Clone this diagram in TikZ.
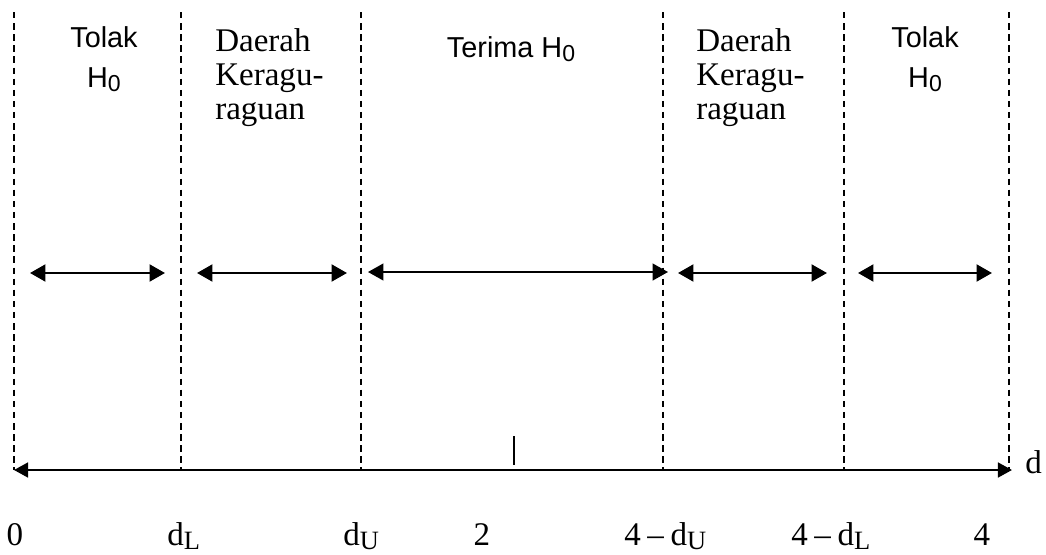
\documentclass[tikz,border=0pt]{standalone}
\usepackage{fontspec}
\usepackage{graphicx}
\setmainfont{Liberation Serif}
\setsansfont{Liberation Sans}
\usetikzlibrary{arrows.meta}
\newcommand{\lowsub}[1]{\raisebox{-0.3ex}{\scalebox{0.8}{#1}}}
\newcommand{\minusd}{\kern0.2em–\kern0.2em}

\begin{document}
\begin{tikzpicture}[
  x=0.025cm, y=-0.025cm,
  sanslbl/.style={font=\fontsize{20.5}{24}\selectfont\sffamily, inner sep=0pt, anchor=base},
  seriflbl/.style={font=\fontsize{23.5}{24}\selectfont, inner sep=0pt, anchor=base west},
  border/.style={dash pattern=on 4.6pt off 3.3pt, line width=1pt},
  spanarrow/.style={{Triangle[length=11pt,width=12pt]}-{Triangle[length=11pt,width=12pt]}, line width=1.8pt},
  axisline/.style={{Triangle[length=10pt,width=10.5pt]}-{Triangle[length=10pt,width=10.5pt]}, line width=1.7pt}
]
\useasboundingbox (0,0) rectangle (1046,554);

% --- region borders ---
\coordinate (b0top) at (14,12);    \coordinate (b0bot) at (14,470);
\coordinate (b1top) at (181,12);   \coordinate (b1bot) at (181,470);
\coordinate (b2top) at (361,12);   \coordinate (b2bot) at (361,470);
\coordinate (b3top) at (663,12);   \coordinate (b3bot) at (663,470);
\coordinate (b4top) at (844,12);   \coordinate (b4bot) at (844,470);
\coordinate (b5top) at (1009,12);  \coordinate (b5bot) at (1009,470);
\foreach \i in {0,...,5}
  \draw[border] (b\i top) -- (b\i bot);

% --- region labels ---
\node[sanslbl]  (tolakA)  at (104,47)  {Tolak};
\node[sanslbl]  (hA)      at (104,87)  {H\lowsub{0}};
\node[seriflbl] (daerahA) at (215,51)  {Daerah};
\node[seriflbl] (keraA)   at (215,85)  {Keragu-};
\node[seriflbl] (ragA)    at (215,119) {raguan};
\node[sanslbl]  (terima)  at (511,57)  {Terima H\lowsub{0}};
\node[seriflbl] (daerahB) at (696,51)  {Daerah};
\node[seriflbl] (keraB)   at (696,85)  {Keragu-};
\node[seriflbl] (ragB)    at (696,119) {raguan};
\node[sanslbl]  (tolakB)  at (925,47)  {Tolak};
\node[sanslbl]  (hB)      at (925,87)  {H\lowsub{0}};

% --- ranges ---
\coordinate (r1l) at (30,273);  \coordinate (r1r) at (165,273);
\coordinate (r2l) at (197,273); \coordinate (r2r) at (347,273);
\coordinate (r3l) at (368,272); \coordinate (r3r) at (668,272);
\coordinate (r4l) at (678,273); \coordinate (r4r) at (827,273);
\coordinate (r5l) at (858,273); \coordinate (r5r) at (992,273);
\draw[spanarrow] (r1l) -- (r1r);
\draw[spanarrow] (r2l) -- (r2r);
\draw[spanarrow, line width=1.3pt] (r3l) -- (r3r);
\draw[spanarrow] (r4l) -- (r4r);
\draw[spanarrow] (r5l) -- (r5r);

% --- axis ---
\coordinate (axl) at (14,470);
\coordinate (axr) at (1012,470);
\coordinate (ticktop) at (514,436);
\coordinate (tickbot) at (514,465);
\draw[axisline] (axl) -- (axr);
\draw[line width=1pt] (ticktop) -- (tickbot);
\node[seriflbl] (dlbl) at (1025,473) {d};

% --- axis values ---
\node[seriflbl, anchor=base] (v0)  at (15,545)  {0};
\node[seriflbl] (vdl)  at (167,545) {d\lowsub{L}};
\node[seriflbl] (vdu)  at (343,545) {d\lowsub{U}};
\node[seriflbl, anchor=base] (v2)  at (482,545) {2};
\node[seriflbl] (v4du) at (624,545) {4\minusd d\lowsub{U}};
\node[seriflbl] (v4dl) at (791,545) {4\minusd d\lowsub{L}};
\node[seriflbl, anchor=base] (v4)  at (982,545) {4};

\end{tikzpicture}
\end{document}
